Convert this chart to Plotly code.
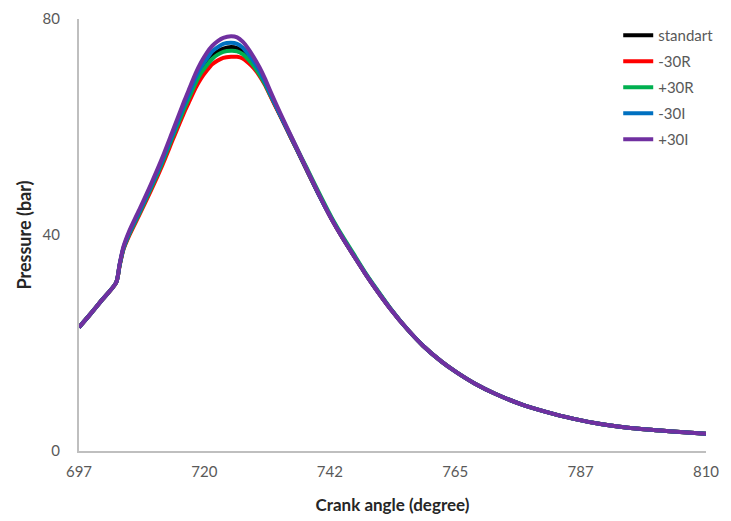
import plotly.graph_objects as go

crank_angle = [697, 699, 701, 703.7, 704.3, 705, 706, 708, 710, 712,
               714, 716, 717, 718, 719, 720, 721, 722, 723, 724.4,
               725.5, 726.5, 727.5, 728.5, 729.5, 730.5, 731.5, 733, 734.5, 736.3,
               738, 740.4, 742.5, 744.6, 746.5, 748.5, 750.5, 753, 756.3, 759,
               762.4, 765, 768.3, 772, 777.1, 781, 786, 791, 797.9, 804, 810]

p_standart = [22.9, 25.3, 27.8, 31.2, 34.3, 37.5, 40.1, 44.4, 48.8, 53.5,
              58.6, 63.7, 66.1, 68.4, 70.4, 71.9, 73.2, 74.0, 74.5, 74.8,
              74.6, 74.0, 72.9, 71.6, 70.0, 68.1, 65.9, 62.7, 59.5, 55.7,
              52.1, 47.1, 43.0, 39.3, 36.2, 33.0, 30.0, 26.5, 22.4, 19.5,
              16.5, 14.6, 12.5, 10.6, 8.5, 7.3, 6.0, 5.0, 4.1, 3.6, 3.2]
p_m30R = [22.9, 25.3, 27.8, 31.2, 34.2, 37.3, 39.8, 44.0, 48.3, 52.9,
          57.9, 62.8, 65.0, 67.2, 69.0, 70.4, 71.6, 72.3, 72.8, 73.0,
          73.0, 72.7, 71.9, 70.9, 69.5, 67.8, 65.7, 62.6, 59.5, 55.8,
          52.2, 47.2, 43.0, 39.3, 36.2, 33.0, 30.0, 26.5, 22.4, 19.5,
          16.5, 14.6, 12.5, 10.6, 8.5, 7.3, 6.0, 5.0, 4.1, 3.6, 3.2]
p_p30R = [22.9, 25.3, 27.8, 31.2, 34.3, 37.4, 40.0, 44.3, 48.7, 53.4,
          58.5, 63.5, 65.8, 68.1, 70.0, 71.4, 72.6, 73.4, 73.9, 74.1,
          74.0, 73.5, 72.5, 71.3, 69.8, 68.0, 65.9, 62.8, 59.7, 56.0,
          52.5, 47.5, 43.3, 39.6, 36.5, 33.2, 30.2, 26.6, 22.4, 19.5,
          16.5, 14.6, 12.5, 10.6, 8.5, 7.3, 6.0, 5.0, 4.1, 3.6, 3.2]
p_m30I = [22.9, 25.3, 27.8, 31.2, 34.4, 37.6, 40.3, 44.6, 49.1, 53.8,
          59.0, 64.2, 66.6, 69.1, 71.1, 72.6, 74.0, 74.8, 75.4, 75.6,
          75.4, 74.7, 73.5, 72.1, 70.4, 68.4, 66.1, 62.8, 59.6, 55.8,
          52.2, 47.1, 43.0, 39.3, 36.2, 33.0, 30.0, 26.5, 22.4, 19.5,
          16.5, 14.6, 12.5, 10.6, 8.5, 7.3, 6.0, 5.0, 4.1, 3.6, 3.2]
p_p30I = [22.9, 25.3, 27.8, 31.2, 34.5, 37.8, 40.6, 45.0, 49.5, 54.3,
          59.6, 64.9, 67.4, 69.9, 72.0, 73.7, 75.0, 75.9, 76.5, 76.8,
          76.6, 75.8, 74.5, 72.9, 71.1, 69.0, 66.6, 63.2, 59.9, 56.0,
          52.3, 47.2, 43.0, 39.3, 36.2, 33.0, 30.0, 26.5, 22.4, 19.5,
          16.5, 14.6, 12.5, 10.6, 8.5, 7.3, 6.0, 5.0, 4.1, 3.6, 3.2]

series_names = ["standart", "-30R", "+30R", "-30I", "+30I"]
series_values = [p_standart, p_m30R, p_p30R, p_m30I, p_p30I]
series_colors = ["#000000", "#FF0000", "#00B050", "#0070C0", "#7030A0"]

x_tickvals = [697, 719.6, 742.2, 764.8, 787.4, 810]
x_ticktext = ["697", "720", "742", "765", "787", "810"]
y_tickvals = [0, 40, 80]

fig = go.Figure()
for name, vals, col in zip(series_names, series_values, series_colors):
    fig.add_trace(go.Scatter(
        x=crank_angle, y=vals, name=name, mode="lines",
        line=dict(color=col, width=4, shape="spline", smoothing=0.7),
        legendgroup=name,
    ))

fig.update_layout(
    width=731, height=521,
    margin=dict(l=79, r=16, t=19, b=70),
    paper_bgcolor="white", plot_bgcolor="white",
    font=dict(family="Lato", color="#595959"),
    showlegend=True,
    legend=dict(x=0.86, y=1.0, xanchor="left", yanchor="top",
                font=dict(size=15, color="#595959"),
                tracegroupgap=3.5, bgcolor="rgba(0,0,0,0)"),
    xaxis=dict(range=[697, 810], tickvals=x_tickvals, ticktext=x_ticktext,
               showgrid=False, zeroline=False, showline=True,
               linecolor="#BFBFBF", linewidth=2, automargin=False,
               tickfont=dict(size=15, color="#595959"),
               ticklabelstandoff=6,
               title=dict(text="<b>Crank angle (degree)</b>",
                          font=dict(size=17, color="#262626"), standoff=20)),
    yaxis=dict(range=[0, 80], tickvals=y_tickvals,
               showgrid=False, zeroline=False, showline=True,
               linecolor="#BFBFBF", linewidth=2, automargin=False,
               tickfont=dict(size=15, color="#595959"),
               ticklabelstandoff=14,
               title=dict(text="<b>Pressure (bar)</b>",
                          font=dict(size=18, color="#262626"), standoff=6)),
)

fig.write_html("out.html")
